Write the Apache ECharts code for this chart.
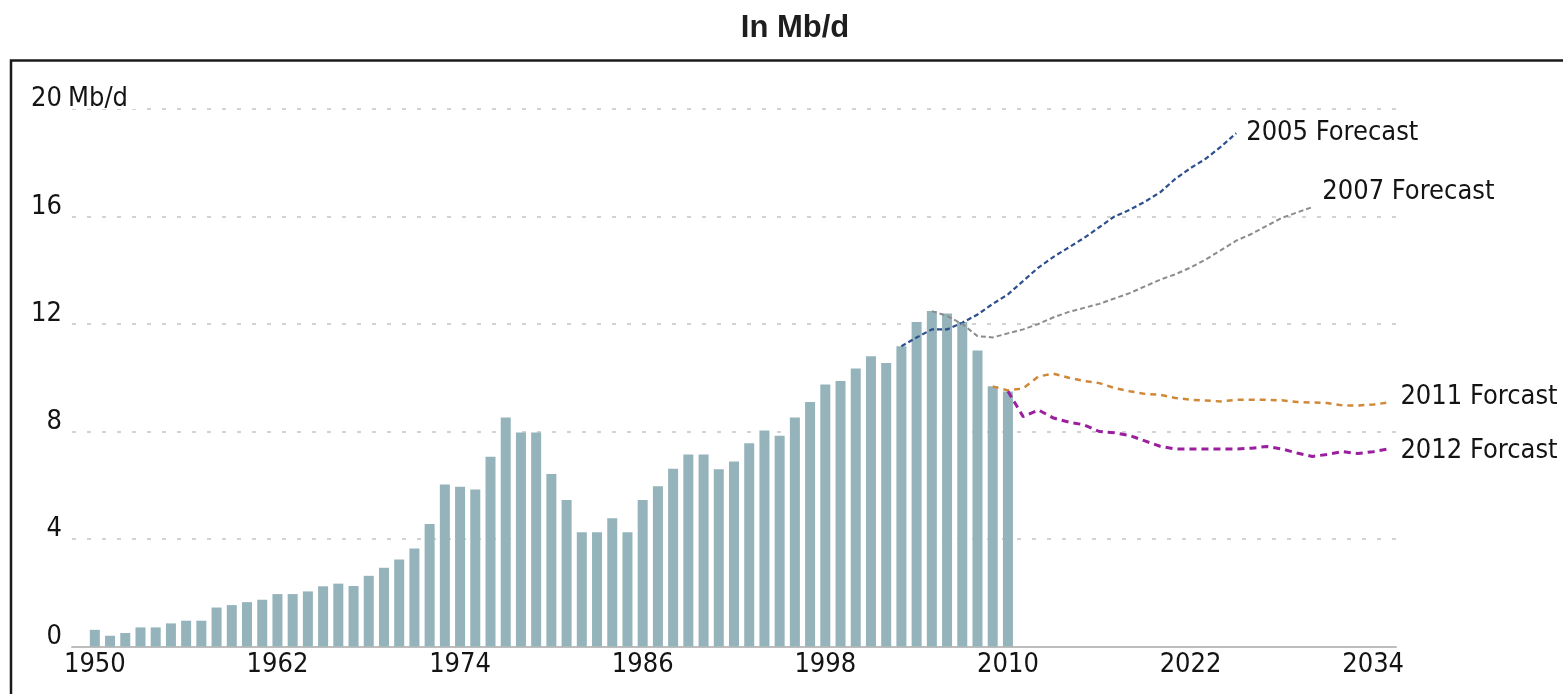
<!DOCTYPE html>
<html><head><meta charset="utf-8">
<script src="https://cdn.jsdelivr.net/npm/echarts@6/dist/echarts.min.js"></script>
<style>html,body{margin:0;padding:0;background:#fff}#c{width:1563px;height:694px}</style>
</head><body><div id="c"></div><script>
const FONT = "'Liberation Sans Narrow','Arial Narrow','DejaVu Sans Condensed',sans-serif";

// Category range of the x axis (one slot per year)
const firstYear = 1949;
const lastYear = 2035;
const xLabelYears = [1950, 1962, 1974, 1986, 1998, 2010, 2022, 2034];
const yMin = 0, yMax = 20, yStep = 4;

// Historical values (bars), Mb/d, 1950..2010
const importsStart = 1950;
const imports = [0.62, 0.40, 0.50, 0.71, 0.71, 0.86, 0.96, 0.96, 1.45, 1.54,
  1.65, 1.74, 1.95, 1.95, 2.05, 2.24, 2.34, 2.25, 2.63, 2.93,
  3.24, 3.65, 4.56, 6.03, 5.94, 5.84, 7.06, 8.52, 7.96, 7.96,
  6.42, 5.45, 4.25, 4.25, 4.77, 4.25, 5.45, 5.96, 6.61, 7.14,
  7.14, 6.60, 6.88, 7.56, 8.04, 7.84, 8.52, 9.10, 9.75, 9.88,
  10.34, 10.80, 10.55, 11.17, 12.07, 12.48, 12.39, 12.07, 11.01, 9.68,
  9.49];

// Forecasts
const f2005Start = 2003;
const f2005 = [11.17, 11.5, 11.8, 11.8, 12.05, 12.35, 12.75, 13.1, 13.6, 14.1,
  14.5, 14.85, 15.2, 15.6, 16.0, 16.25, 16.55, 16.9, 17.4, 17.8,
  18.15, 18.6, 19.1];
const f2007Start = 2005;
const f2007 = [12.48, 12.3, 12.0, 11.55, 11.5, 11.65, 11.8, 12.0, 12.25, 12.45,
  12.6, 12.75, 12.95, 13.15, 13.4, 13.65, 13.85, 14.1, 14.4, 14.75,
  15.1, 15.35, 15.65, 15.95, 16.15, 16.35];
const f2011Start = 2009;
const f2011 = [9.68, 9.53, 9.6, 10.05, 10.15, 10.0, 9.88, 9.8, 9.62, 9.5,
  9.4, 9.37, 9.25, 9.18, 9.15, 9.12, 9.18, 9.18, 9.18, 9.16,
  9.1, 9.08, 9.06, 8.97, 8.97, 9.0, 9.08];
const f2012Start = 2010;
const f2012 = [9.5, 8.55, 8.8, 8.5, 8.35, 8.25, 8.0, 7.95, 7.85, 7.65,
  7.45, 7.35, 7.35, 7.35, 7.35, 7.35, 7.38, 7.44, 7.35, 7.2,
  7.07, 7.15, 7.25, 7.18, 7.25, 7.35];

const years = [];
for (let y = firstYear; y <= lastYear; y++) years.push(String(y));
function place(start, values) {
  return years.map(y => {
    const i = Number(y) - start;
    return (i >= 0 && i < values.length) ? values[i] : null;
  });
}

const chart = echarts.init(document.getElementById('c'), null, {renderer: 'canvas'});
const labelFont = {fontFamily: FONT, fontSize: 27, color: '#141414'};
function fcLine(name, start, values, color, width, dash, offset) {
  return {
    name, type: 'line', data: place(start, values), symbol: 'none',
    lineStyle: {color, width, type: dash}, z: 3,
    endLabel: Object.assign({show: true, formatter: '{a}', distance: 10, offset}, labelFont)
  };
}

chart.setOption({
  animation: false,
  backgroundColor: '#fff',
  title: {
    text: 'In Mb/d', left: 790, top: 8, textAlign: 'center',
    textStyle: {fontFamily: "'Liberation Sans',sans-serif", fontWeight: 'bold', fontSize: 31, color: '#1e1e1e'}
  },
  graphic: [{
    type: 'rect', z: 100, silent: true,
    shape: {x: 11, y: 60.5, width: 1700, height: 800},
    style: {fill: 'none', stroke: '#1a1a1a', lineWidth: 2.5}
  }],
  grid: {left: 72, right: 167, top: 109, bottom: 47.5},
  xAxis: {
    type: 'category', data: years, boundaryGap: true,
    axisLine: {show: true, lineStyle: {color: '#bdbdbd', width: 2}},
    axisTick: {show: false},
    axisLabel: Object.assign({
      interval: (idx, val) => xLabelYears.includes(Number(val)),
      margin: 5
    }, labelFont),
    splitLine: {show: false}
  },
  yAxis: [{
    type: 'value', min: yMin, max: yMax, interval: yStep,
    axisLine: {show: false}, axisTick: {show: false},
    axisLabel: Object.assign({margin: 10, verticalAlign: 'bottom', lineHeight: 20}, labelFont),
    splitLine: {show: true, lineStyle: {color: '#c4c4c4', width: 1.5, type: [4, 11]}}
  }, {
    type: 'value', min: yMin, max: yMax, interval: yStep, position: 'left', offset: 10,
    axisLine: {show: false}, axisTick: {show: false}, splitLine: {show: false},
    axisLabel: Object.assign({
      inside: true, margin: 2, verticalAlign: 'bottom', lineHeight: 20,
      backgroundColor: '#fff', padding: [0, 8, 0, 4],
      formatter: v => v === yMax ? 'Mb/d' : ''
    }, labelFont)
  }],
  series: [
    {
      name: 'Imports', type: 'bar', data: place(importsStart, imports),
      barWidth: 10, itemStyle: {color: '#94b3ba'}, z: 2
    },
    fcLine('2005 Forecast', f2005Start, f2005, '#2d4f8e', 2.2, [5, 3], [0, 0]),
    fcLine('2007 Forecast', f2007Start, f2007, '#8c8c8c', 2, [5, 3], [0, -15]),
    fcLine('2011 Forcast', f2011Start, f2011, '#d08838', 2.5, [6, 5], [2, -5]),
    fcLine('2012 Forcast', f2012Start, f2012, '#9a1e9e', 3, [7, 5], [2, 2])
  ]
});
</script></body></html>
